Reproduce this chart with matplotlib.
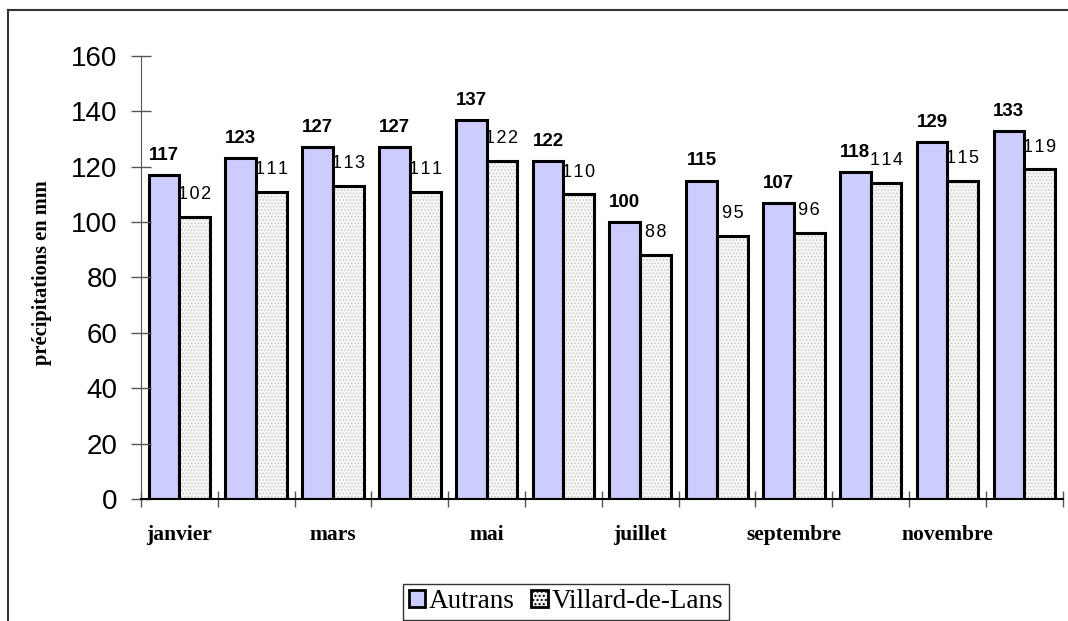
import matplotlib.pyplot as plt
import numpy as np
from matplotlib.lines import Line2D

months = ['janvier', 'février', 'mars', 'avril', 'mai', 'juin', 'juillet',
          'août', 'septembre', 'octobre', 'novembre', 'décembre']
autrans = [117, 123, 127, 127, 137, 122, 100, 115, 107, 118, 129, 133]
villard = [102, 111, 113, 111, 122, 110, 88, 95, 96, 114, 115, 119]

sans = ['Liberation Sans', 'DejaVu Sans']
serif = ['Liberation Serif', 'DejaVu Serif']

fig = plt.figure(figsize=(10.68, 6.21), dpi=100)
ax = fig.add_axes([0.132, 0.1965, 0.863, 0.7134])

x = np.arange(len(months))
w = 0.4
b1 = ax.bar(x + 0.1, autrans, w, align='edge', color='#ccccff',
            edgecolor='black', linewidth=2.2, label='Autrans')
b2 = ax.bar(x + 0.5, villard, w, align='edge', color='#f6f6f6',
            edgecolor='#c4c4c4', linewidth=2.2, label='Villard-de-Lans',
            hatch='.....')
for p in b2:
    p.set_hatch_linewidth(0.6)
# black outlines on top of the dotted bars
ax.bar(x + 0.5, villard, w, align='edge', fill=False,
       edgecolor='black', linewidth=2.2)

for i in range(len(months)):
    ax.annotate(str(autrans[i]), (x[i] + 0.3, autrans[i]), xytext=(0, 8),
                textcoords='offset points', ha='center', va='bottom',
                fontsize=13.5, fontweight='bold', family=sans)
    ax.annotate('\u200a'.join(str(villard[i])), (x[i] + 0.7, villard[i]), xytext=(0, 10),
                textcoords='offset points', ha='center', va='bottom',
                fontsize=13, family=sans)

ax.set_xlim(0, 12)
ax.set_ylim(0, 160)
ax.set_yticks(range(0, 161, 20))
ax.set_xticks(range(0, 13))
ax.set_xticklabels([])
ax.set_xticks(x[::2] + 0.5, months[::2], minor=True)
ax.tick_params(axis='x', which='minor', length=0, pad=19)
ax.tick_params(axis='x', which='major', direction='inout', length=12, width=1, color='#555555')
ax.tick_params(axis='y', direction='inout', length=14, width=1, color='#555555', pad=10)
for t in ax.get_xticklabels(minor=True):
    t.set_family(serif)
    t.set_fontweight('bold')
    t.set_fontsize(15.5)
for t in ax.get_yticklabels():
    t.set_family(sans)
    t.set_fontsize(20)

ax.set_ylabel('précipitations en mm', family=serif, fontweight='bold',
              fontsize=14.7, labelpad=2)
ax.yaxis.set_label_coords(-0.096, 0.51)

for s in ['top', 'right']:
    ax.spines[s].set_visible(False)
ax.spines['left'].set_color('#555555')
ax.spines['bottom'].set_linewidth(1.5)

# outer frame (left and top edges)
fig.add_artist(Line2D([0.0075, 0.0075], [0, 0.984], color='#333333', lw=1.5))
fig.add_artist(Line2D([0.0075, 1.0], [0.984, 0.984], color='#333333', lw=1.5))

handles = [plt.Rectangle((0, 0), 1, 1, facecolor='#ccccff', edgecolor='black', lw=2),
           plt.Rectangle((0, 0), 1, 1, facecolor='#f4f4f4', edgecolor='black', lw=2,
                         hatch='....')]
leg = fig.legend(handles, ['Autrans', 'Villard-de-Lans'], loc='lower center',
                 bbox_to_anchor=(0.53, 0.0), ncol=2, frameon=True, fancybox=False,
                 edgecolor='black', prop={'family': serif, 'size': 19.5},
                 handlelength=0.6, handleheight=0.6, handletextpad=0.15,
                 columnspacing=0.6, borderpad=0.2, borderaxespad=0.05)
leg.get_frame().set_linewidth(1)

plt.savefig('out.png', dpi=100)
